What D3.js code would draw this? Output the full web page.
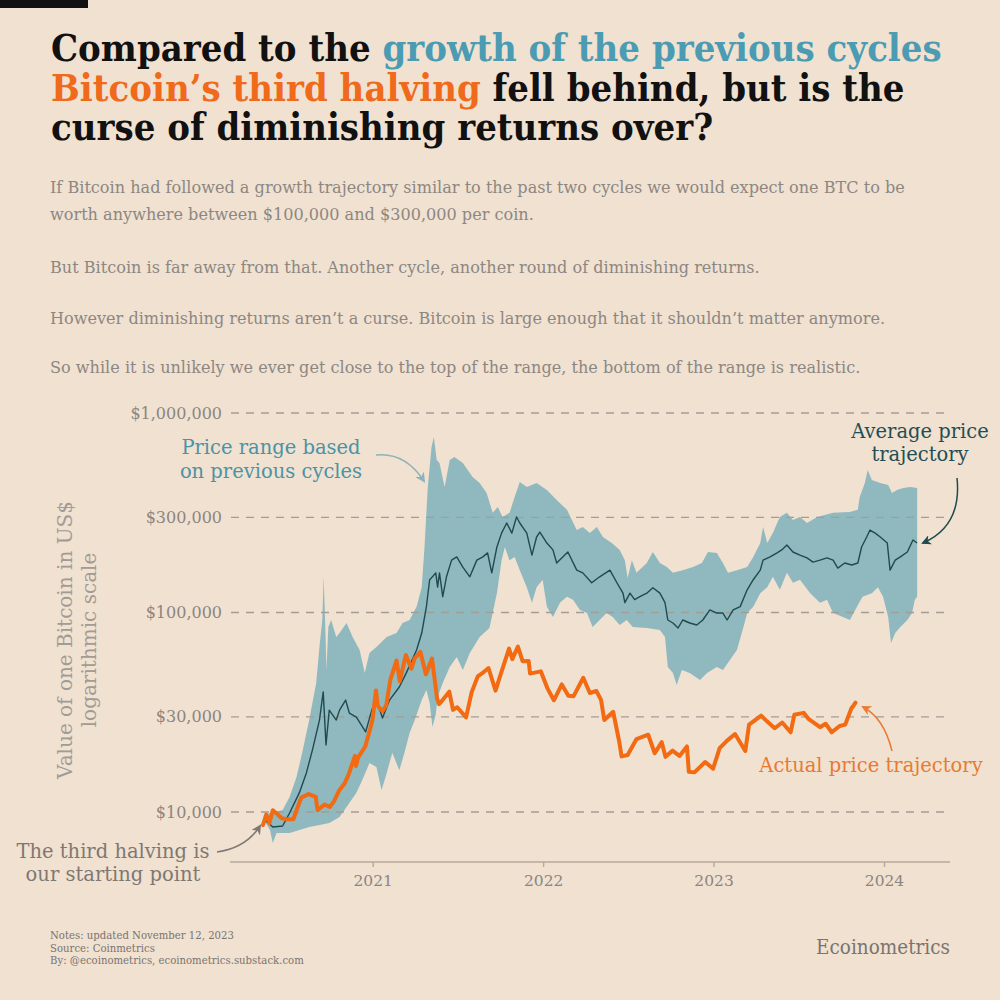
<!DOCTYPE html>
<html><head><meta charset="utf-8">
<script src="https://cdn.jsdelivr.net/npm/d3@7"></script>
<style>
html,body{margin:0;padding:0;background:#f0e1d1;}
svg{display:block}
</style></head><body>
<svg id="chart" width="1000" height="1000"></svg>
<script>
// ---------------- DATA ----------------
const yTickValues = [10000, 30000, 100000, 300000, 1000000];
const xTickYears = ["2021", "2022", "2023", "2024"];

// Upper edge of the price range based on previous cycles (US$)
const upperDates = ["2020-05-13","2020-06-01","2020-06-22","2020-07-07","2020-07-22","2020-08-03","2020-08-18","2020-09-02","2020-09-09","2020-09-15","2020-09-18","2020-09-21","2020-09-24","2020-09-28","2020-10-04","2020-10-15","2020-10-22","2020-11-06","2020-11-19","2020-12-04","2020-12-15","2020-12-25","2021-01-09","2021-01-31","2021-02-21","2021-03-06","2021-03-21","2021-04-05","2021-04-16","2021-04-22","2021-04-29","2021-05-07","2021-05-12","2021-05-18","2021-05-24","2021-06-04","2021-06-15","2021-06-25","2021-07-13","2021-08-03","2021-08-18","2021-09-02","2021-09-15","2021-09-26","2021-10-06","2021-10-21","2021-11-01","2021-11-12","2021-11-27","2021-12-18","2022-01-09","2022-01-30","2022-02-21","2022-03-14","2022-03-27","2022-04-11","2022-04-26","2022-05-09","2022-05-28","2022-06-14","2022-06-25","2022-07-01","2022-07-10","2022-07-20","2022-08-11","2022-08-24","2022-09-08","2022-09-23","2022-10-06","2022-10-27","2022-11-18","2022-12-07","2022-12-20","2023-01-08","2023-01-21","2023-02-01","2023-02-20","2023-03-14","2023-03-27","2023-04-11","2023-04-17","2023-04-26","2023-05-08","2023-05-23","2023-06-07","2023-06-20","2023-07-05","2023-07-20","2023-08-11","2023-09-14","2023-10-20","2023-11-06","2023-11-10","2023-11-21","2023-11-27","2023-12-06","2023-12-24","2024-01-10","2024-01-18","2024-01-29","2024-02-11","2024-02-26","2024-03-12"];
const upperValues = [9660,10000,10200,11900,15000,19800,28900,44300,67100,91700,151000,91700,51500,84600,91700,75400,78900,88600,75400,64900,49800,62700,67100,75400,78900,88600,91700,107000,134000,213000,426000,676000,758000,581000,561000,426000,581000,602000,561000,478000,446000,397000,316000,338000,301000,316000,379000,451000,426000,446000,411000,366000,327000,259000,268000,250000,268000,239000,223000,206000,183000,149000,183000,158000,177000,201000,177000,169000,158000,163000,169000,177000,201000,199000,177000,158000,163000,169000,190000,223000,268000,223000,250000,301000,316000,291000,301000,281000,301000,316000,319000,327000,379000,446000,518000,462000,446000,436000,397000,411000,421000,426000,421000];

// Lower edge of the price range based on previous cycles (US$)
const lowerDates = ["2020-05-13","2020-05-26","2020-06-01","2020-06-09","2020-07-07","2020-07-28","2020-08-18","2020-09-09","2020-09-30","2020-10-22","2020-11-12","2020-11-27","2020-12-10","2020-12-25","2021-01-09","2021-01-20","2021-01-31","2021-02-12","2021-02-27","2021-03-10","2021-03-21","2021-04-01","2021-04-16","2021-04-26","2021-05-03","2021-05-09","2021-05-16","2021-05-20","2021-05-31","2021-06-15","2021-06-30","2021-07-13","2021-07-28","2021-08-18","2021-09-08","2021-09-24","2021-10-04","2021-10-11","2021-10-21","2021-11-01","2021-11-12","2021-11-27","2021-12-08","2021-12-18","2021-12-31","2022-01-09","2022-01-22","2022-02-06","2022-02-21","2022-03-06","2022-03-21","2022-04-05","2022-04-17","2022-05-02","2022-05-17","2022-05-30","2022-06-14","2022-06-29","2022-07-12","2022-08-11","2022-09-08","2022-09-19","2022-09-25","2022-10-06","2022-10-14","2022-10-25","2022-11-11","2022-12-03","2022-12-18","2023-01-08","2023-01-21","2023-02-05","2023-02-20","2023-03-06","2023-03-14","2023-03-27","2023-04-11","2023-04-26","2023-05-08","2023-05-23","2023-06-07","2023-06-20","2023-07-05","2023-07-27","2023-08-17","2023-09-01","2023-09-14","2023-10-05","2023-10-20","2023-11-04","2023-11-16","2023-12-06","2023-12-19","2023-12-30","2024-01-10","2024-01-16","2024-01-25","2024-02-05","2024-02-20","2024-03-01","2024-03-07","2024-03-12"];
const lowerValues = [9120,8130,7000,7850,7850,8130,8410,8610,8810,9440,11100,12500,14500,17600,16800,12900,15700,19800,16200,19800,24900,28900,36400,40900,35200,26700,30800,37700,44300,53300,59800,51500,62700,75400,83600,125000,183000,213000,183000,190000,163000,134000,112000,134000,146000,107000,94900,112000,120000,116000,103000,99400,84600,91700,99400,94900,86600,91700,84600,83600,81700,75400,53300,49800,43300,51500,49800,45900,49800,53300,51500,57800,64900,84600,99400,107000,125000,134000,151000,130000,158000,141000,146000,125000,112000,116000,99400,94900,91700,107000,120000,125000,134000,120000,94900,70300,78900,84600,91700,99400,116000,120000];

// Average price trajectory (US$)
const meanDates = ["2020-05-11","2020-05-21","2020-06-01","2020-06-22","2020-07-07","2020-07-28","2020-08-12","2020-08-25","2020-09-09","2020-09-17","2020-09-23","2020-09-30","2020-10-15","2020-10-22","2020-11-04","2020-11-12","2020-11-27","2020-12-17","2020-12-30","2021-01-09","2021-01-22","2021-02-06","2021-02-27","2021-03-14","2021-04-05","2021-04-16","2021-04-26","2021-05-03","2021-05-09","2021-05-16","2021-05-20","2021-05-24","2021-05-31","2021-06-08","2021-06-19","2021-06-30","2021-07-13","2021-07-28","2021-08-12","2021-08-25","2021-09-04","2021-09-13","2021-09-24","2021-10-04","2021-10-15","2021-10-26","2021-11-05","2021-11-12","2021-11-27","2021-12-08","2021-12-18","2021-12-25","2022-01-09","2022-01-22","2022-01-30","2022-02-12","2022-02-23","2022-03-14","2022-03-27","2022-04-15","2022-05-02","2022-05-24","2022-06-08","2022-06-21","2022-06-25","2022-07-06","2022-07-16","2022-07-27","2022-08-11","2022-08-24","2022-09-08","2022-09-19","2022-09-25","2022-10-06","2022-10-17","2022-10-27","2022-11-11","2022-11-26","2022-12-09","2022-12-24","2023-01-08","2023-01-21","2023-01-30","2023-02-12","2023-02-27","2023-03-14","2023-03-27","2023-04-11","2023-04-17","2023-05-02","2023-05-17","2023-05-27","2023-06-07","2023-06-20","2023-07-05","2023-07-20","2023-08-02","2023-08-17","2023-09-01","2023-09-14","2023-09-24","2023-10-09","2023-10-24","2023-11-06","2023-11-14","2023-11-25","2023-12-02","2023-12-13","2023-12-24","2024-01-08","2024-01-14","2024-01-25","2024-02-05","2024-02-20","2024-03-03","2024-03-12"];
const meanValues = [9120,8910,8410,8510,9890,12500,15700,20500,28900,40000,21700,32400,28900,32400,36400,31300,29900,25200,32400,36400,29600,36400,42300,49800,64900,78900,107000,146000,151000,158000,134000,158000,120000,151000,183000,190000,169000,151000,183000,190000,199000,158000,213000,250000,281000,250000,301000,281000,250000,194000,239000,253000,223000,206000,177000,190000,201000,163000,158000,141000,151000,163000,141000,125000,112000,125000,116000,120000,125000,133000,125000,112000,91700,88600,83600,91700,88600,86600,91700,103000,99400,99400,91700,103000,107000,130000,146000,163000,183000,190000,199000,206000,218000,201000,194000,188000,179000,183000,188000,183000,167000,177000,173000,177000,213000,239000,259000,250000,239000,223000,163000,183000,190000,201000,231000,223000];

// Actual Bitcoin price (US$)
const actualDates = ["2020-05-11","2020-05-18","2020-05-25","2020-06-01","2020-06-10","2020-06-20","2020-07-01","2020-07-15","2020-07-27","2020-08-01","2020-08-17","2020-09-01","2020-09-05","2020-09-20","2020-10-01","2020-10-10","2020-10-21","2020-11-01","2020-11-10","2020-11-24","2020-11-26","2020-12-01","2020-12-16","2020-12-27","2021-01-01","2021-01-08","2021-01-12","2021-01-22","2021-01-30","2021-02-08","2021-02-21","2021-02-28","2021-03-13","2021-03-25","2021-04-01","2021-04-13","2021-04-25","2021-05-08","2021-05-19","2021-05-23","2021-06-01","2021-06-14","2021-06-22","2021-07-01","2021-07-20","2021-08-01","2021-08-14","2021-08-23","2021-09-06","2021-09-21","2021-10-01","2021-10-20","2021-10-27","2021-11-08","2021-11-18","2021-12-01","2021-12-04","2021-12-27","2022-01-10","2022-01-24","2022-02-10","2022-02-24","2022-03-07","2022-03-28","2022-04-11","2022-04-25","2022-05-05","2022-05-12","2022-05-31","2022-06-13","2022-06-18","2022-07-01","2022-07-20","2022-08-14","2022-08-28","2022-09-12","2022-09-20","2022-10-05","2022-10-20","2022-11-05","2022-11-09","2022-11-21","2022-12-14","2022-12-31","2023-01-14","2023-01-30","2023-02-16","2023-03-10","2023-03-18","2023-04-13","2023-04-26","2023-05-12","2023-05-28","2023-06-15","2023-06-23","2023-07-13","2023-07-24","2023-08-17","2023-08-29","2023-09-11","2023-09-28","2023-10-10","2023-10-23","2023-10-28","2023-11-01"];
const actualValues = [8600,9700,8800,10200,9800,9300,9200,9200,11000,11800,12300,11900,10200,10900,10600,11300,12800,13800,15300,19100,17000,18800,21300,26300,29400,40600,34000,32000,34300,46200,57400,45200,61200,52300,59000,63500,49000,58800,37000,34700,36700,40100,32500,33500,29800,39900,47800,49500,52700,40600,48100,65900,58400,67500,57000,57200,49400,50700,41800,36300,43600,38300,38000,47100,39500,40400,36500,28900,31800,22500,19000,19300,23200,24400,19700,22400,18900,20300,19100,21300,15900,15800,17800,16500,20900,22800,24600,20200,27400,30400,28400,26300,28100,25100,30700,31400,29200,26600,27700,25100,27000,27400,33000,34200,35300];

// ---------------- CHART ----------------
const parse = d3.utcParse("%Y-%m-%d");
const svg = d3.select("#chart");
const W = 1000, H = 1000;

const C = {
  bg: "#f0e1d1", black: "#111111", teal: "#4b9cb2", orange: "#f06a1c",
  band: "#8fb8bf", mean: "#1f4a50", actual: "#f26a12",
  grey: "#8c8580", grid: "#a39d97", axis: "#b6a99b"
};

const serif = "'DejaVu Serif',Georgia,serif";

svg.append("rect").attr("width", W).attr("height", H).attr("fill", C.bg);
svg.append("rect").attr("x", 0).attr("y", 0).attr("width", 88).attr("height", 8).attr("fill", "#111");

// Condensed text: a normal serif compressed horizontally to the reference width
function condensedLines(lines, opts) {
  const els = lines.map((parts, i) => {
    const t = svg.append("text").attr("x", 0).attr("y", 0)
      .attr("font-family", serif).attr("font-size", opts.size)
      .attr("font-weight", opts.weight || "normal")
      .attr("text-anchor", opts.anchor || "start");
    parts.forEach(p => t.append("tspan").attr("fill", p[1]).text(p[0]));
    return t;
  });
  const sx = opts.sx || (opts.target / els[opts.ref || 0].node().getComputedTextLength());
  els.forEach((t, i) => t.attr("transform", `translate(${opts.x},${opts.ys[i]}) scale(${sx},1)`));
  return sx;
}

// Title
condensedLines([
  [["Compared to the ", C.black], ["growth of the previous cycles", C.teal]],
  [["Bitcoin\u2019s third halving", C.orange], [" fell behind, but is the", C.black]],
  [["curse of diminishing returns over?", C.black]]
], { size: 36.5, weight: "bold", x: 51, ys: [61, 101, 140], target: 891 });

// Subtitle
const subCol = "#8d8782";
condensedLines([
  [["If Bitcoin had followed a growth trajectory similar to the past two cycles we would expect one BTC to be", subCol]],
  [["worth anywhere between $100,000 and $300,000 per coin.", subCol]],
  [["But Bitcoin is far away from that. Another cycle, another round of diminishing returns.", subCol]],
  [["However diminishing returns aren\u2019t a curse. Bitcoin is large enough that it shouldn\u2019t matter anymore.", subCol]],
  [["So while it is unlikely we ever get close to the top of the range, the bottom of the range is realistic.", subCol]]
], { size: 17.5, x: 50, ys: [193, 220, 273, 324, 373], target: 856 });

// Scales
const x = d3.scaleUtc().domain([parse("2021-01-01"), parse("2024-01-01")]).range([372.7, 884]);
const y = d3.scaleLog().domain([1e4, 1e6]).range([812, 413]);

const upper = upperDates.map((d, i) => [parse(d), upperValues[i]]);
const lower = lowerDates.map((d, i) => [parse(d), lowerValues[i]]);
const mean = meanDates.map((d, i) => [parse(d), meanValues[i]]);
const actual = actualDates.map((d, i) => [parse(d), actualValues[i]]);

const line = d3.line().x(d => x(d[0])).y(d => y(d[1]));

// Band
svg.append("path").attr("d", line(upper.concat(lower.slice().reverse())) + "Z")
  .attr("fill", C.band).attr("stroke", "none");

// Grid + y labels
const g = svg.append("g");
yTickValues.forEach(v => {
  g.append("line").attr("x1", 231).attr("x2", 947).attr("y1", y(v)).attr("y2", y(v))
    .attr("stroke", C.grid).attr("stroke-width", 1.3).attr("stroke-dasharray", "8,7");
  g.append("text").attr("x", 222).attr("y", y(v)).attr("dy", "0.35em")
    .attr("text-anchor", "end").attr("font-family", serif).attr("font-size", 16)
    .attr("fill", C.grey).text("$" + d3.format(",")(v));
});

// Lines
svg.append("path").attr("d", line(mean)).attr("fill", "none")
  .attr("stroke", C.mean).attr("stroke-width", 1.4).attr("stroke-linejoin", "round");
svg.append("path").attr("d", line(actual)).attr("fill", "none")
  .attr("stroke", C.actual).attr("stroke-width", 4).attr("stroke-linejoin", "round")
  .attr("stroke-linecap", "round");

// X axis
svg.append("line").attr("x1", 230).attr("x2", 950).attr("y1", 862).attr("y2", 862)
  .attr("stroke", C.axis).attr("stroke-width", 1.6);
const xAxis = d3.axisBottom(x).tickValues(xTickYears.map(s => parse(s + "-01-01")))
  .tickFormat(d3.utcFormat("%Y")).tickSize(5).tickPadding(8);
const xa = svg.append("g").attr("transform", "translate(0,862)").call(xAxis);
xa.select(".domain").remove();
xa.selectAll("line").attr("stroke", C.axis).attr("stroke-width", 1.4);
xa.selectAll("text").attr("font-family", serif).attr("font-size", 15.5).attr("fill", C.grey);

// Y axis title
const yt = svg.append("text").attr("transform", "translate(76,640) rotate(-90)")
  .attr("text-anchor", "middle").attr("font-family", serif).attr("font-size", 20)
  .attr("fill", "#a29b95");
yt.append("tspan").attr("x", 0).attr("y", -4).text("Value of one Bitcoin in US$");
yt.append("tspan").attr("x", 0).attr("y", 20).text("logarithmic scale");

// Arrow markers
const defs = svg.append("defs");
function marker(id, color) {
  defs.append("marker").attr("id", id).attr("viewBox", "0 0 10 10")
    .attr("refX", 8).attr("refY", 5).attr("markerWidth", 10).attr("markerHeight", 10)
    .attr("markerUnits", "userSpaceOnUse").attr("orient", "auto")
    .append("path").attr("d", "M0,0 L10,5 L0,10 L3,5 Z").attr("fill", color);
}
marker("mTeal", "#8cb2ba"); marker("mDark", C.mean); marker("mOr", "#ec7a33"); marker("mGrey", "#7f7872");

function annText(lines, xc, ys, color) {
  const t = svg.append("text").attr("font-family", serif).attr("font-size", 19.5)
    .attr("fill", color).attr("text-anchor", "middle");
  lines.forEach((s, i) => t.append("tspan").attr("x", xc).attr("y", ys[i]).text(s));
}
annText(["Price range based", "on previous cycles"], 271, [454, 478], "#4b93a5");
svg.append("path").attr("d", "M376,455 Q405,452 424,481").attr("fill", "none")
  .attr("stroke", "#8cb2ba").attr("stroke-width", 1.5).attr("marker-end", "url(#mTeal)");

annText(["Average price", "trajectory"], 920, [438, 461], "#244e54");
svg.append("path").attr("d", "M957,478 Q962,526 923,543").attr("fill", "none")
  .attr("stroke", C.mean).attr("stroke-width", 1.5).attr("marker-end", "url(#mDark)");

annText(["Actual price trajectory"], 871, [772], "#e97a30");
svg.append("path").attr("d", "M892,751 Q884,718 863,707").attr("fill", "none")
  .attr("stroke", "#ec7a33").attr("stroke-width", 1.5).attr("marker-end", "url(#mOr)");

annText(["The third halving is", "our starting point"], 113, [858, 881], "#7f7872");
svg.append("path").attr("d", "M217,852 Q246,848 260,826").attr("fill", "none")
  .attr("stroke", "#7f7872").attr("stroke-width", 1.5).attr("marker-end", "url(#mGrey)");

// Footer
const footCol = "#7a746f";
condensedLines([
  [["Notes: updated November 12, 2023", footCol]],
  [["Source: Coinmetrics", footCol]],
  [["By: @ecoinometrics, ecoinometrics.substack.com", footCol]]
], { size: 11.5, x: 50, ys: [939, 951.5, 964], target: 184 });
condensedLines([
  [["Ecoinometrics", footCol]]
], { size: 20, x: 950, ys: [954], target: 134, anchor: "end" });
</script>
</body></html>
